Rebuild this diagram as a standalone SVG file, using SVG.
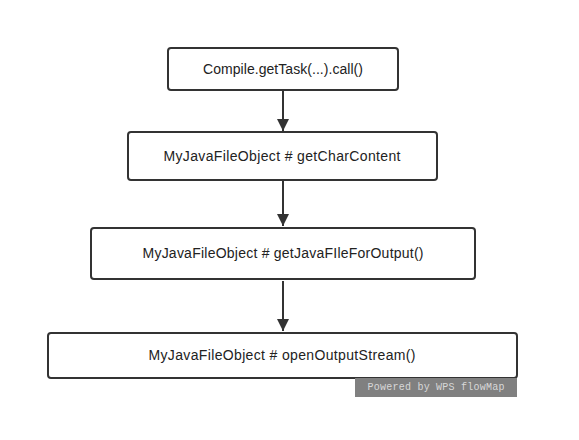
<svg xmlns="http://www.w3.org/2000/svg" width="579" height="440" viewBox="0 0 579 440">
<style>
.box{fill:#fff;stroke:#333;stroke-width:2}
.lbl{font-family:"Liberation Sans",Arial,sans-serif;font-size:14px;fill:#222;text-anchor:middle;dominant-baseline:central}
.edge{stroke:#333;stroke-width:2;fill:none}
</style>
<defs>
<marker id="arr" markerWidth="12" markerHeight="14" refX="10" refY="5" orient="auto" markerUnits="userSpaceOnUse" viewBox="0 0 10 10">
<path d="M0,0 L10,5 L0,10 Z" fill="#333"/>
</marker>
</defs>
<rect width="579" height="440" fill="#fff"/>
<g id="connectors">
<line class="edge" x1="283" y1="90" x2="283" y2="131" marker-end="url(#arr)"/>
<line class="edge" x1="283" y1="181" x2="283" y2="226" marker-end="url(#arr)"/>
<line class="edge" x1="283" y1="281" x2="283" y2="331" marker-end="url(#arr)"/>
</g>
<g id="n1"><rect class="box" x="168" y="48" width="230" height="42" rx="3"/><text class="lbl" x="283" y="69" textLength="160" lengthAdjust="spacing">Compile.getTask(...).call()</text></g>
<g id="n2"><rect class="box" x="128" y="132" width="309" height="48" rx="3"/><text class="lbl" x="282" y="156" textLength="237" lengthAdjust="spacing">MyJavaFileObject # getCharContent</text></g>
<g id="n3"><rect class="box" x="91" y="228" width="384" height="51" rx="3"/><text class="lbl" x="283" y="253" textLength="281" lengthAdjust="spacing">MyJavaFileObject # getJavaFIleForOutput()</text></g>
<g id="n4"><rect class="box" x="48" y="333" width="469" height="45" rx="3"/><text class="lbl" x="282" y="355" textLength="267" lengthAdjust="spacing">MyJavaFileObject # openOutputStream()</text></g>
<g id="watermark"><rect x="355" y="378" width="162" height="19" fill="#808080"/><text x="436" y="387" font-family="'Liberation Mono',monospace" font-size="10" fill="#d8d8d8" text-anchor="middle" dominant-baseline="central" textLength="137" lengthAdjust="spacing">Powered by WPS flowMap</text></g>
</svg>
